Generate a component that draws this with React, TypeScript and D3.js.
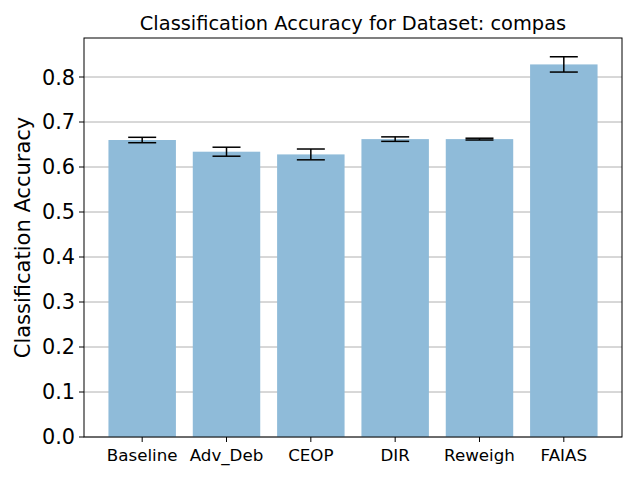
import React from "react";
import * as d3 from "d3";

const categories = ["Baseline", "Adv_Deb", "CEOP", "DIR", "Reweigh", "FAIAS"];
const means = [0.660, 0.634, 0.628, 0.662, 0.662, 0.828];
const errs = [0.006, 0.010, 0.012, 0.005, 0.002, 0.017];
const yTicks = [0, 0.1, 0.2, 0.3, 0.4, 0.5, 0.6, 0.7, 0.8];

const W = 640, H = 480;
const L = 84, R = 622, T = 38, B = 437;

export default function App() {
  const x = d3.scaleLinear().domain([-0.69, 5.69]).range([L, R]);
  const y = d3.scaleLinear().domain([0, 0.8867]).range([B, T]);
  const bw = x(0.4) - x(-0.4);
  const cap = 14;
  const font = "DejaVu Sans, sans-serif";
  return (
    <svg width={W} height={H} style={{ position: "absolute", left: 0, top: 0, background: "#fff" }}>
      <rect width={W} height={H} fill="#fff" />
      {yTicks.map((t) => (
        <line key={"g" + t} x1={L} x2={R} y1={y(t)} y2={y(t)} stroke="#b0b0b0" strokeWidth={1} />
      ))}
      {categories.map((c, i) => (
        <rect key={c} x={x(i) - bw / 2} y={y(means[i])} width={bw} height={B - y(means[i])} fill="#8fbbd9" />
      ))}
      {categories.map((c, i) => {
        const cx = x(i);
        const lo = y(means[i] - errs[i]);
        const hi = y(means[i] + errs[i]);
        return (
          <g key={"e" + c} stroke="#000" strokeWidth={1.5}>
            <line x1={cx} x2={cx} y1={lo} y2={hi} />
            <line x1={cx - cap} x2={cx + cap} y1={lo} y2={lo} />
            <line x1={cx - cap} x2={cx + cap} y1={hi} y2={hi} />
          </g>
        );
      })}
      <rect x={L} y={T} width={R - L} height={B - T} fill="none" stroke="#000" strokeWidth={1} />
      {yTicks.map((t) => (
        <g key={"t" + t}>
          <line x1={L - 5} x2={L} y1={y(t)} y2={y(t)} stroke="#000" strokeWidth={1} />
          <text x={L - 9} y={y(t)} dy="0.36em" textAnchor="end" fontFamily={font} fontSize={20.8}>
            {t.toFixed(1)}
          </text>
        </g>
      ))}
      {categories.map((c, i) => (
        <g key={"x" + c}>
          <line x1={x(i)} x2={x(i)} y1={B} y2={B + 5} stroke="#000" strokeWidth={1} />
          <text x={x(i)} y={B + 24} textAnchor="middle" fontFamily={font} fontSize={16.7}>
            {c}
          </text>
        </g>
      ))}
      <text
        transform={`translate(30,${(T + B) / 2}) rotate(-90)`}
        textAnchor="middle"
        fontFamily={font}
        fontSize={21}
      >
        Classification Accuracy
      </text>
      <text x={(L + R) / 2} y={30} textAnchor="middle" fontFamily={font} fontSize={19.4}>
        Classification Accuracy for Dataset: compas
      </text>
    </svg>
  );
}
